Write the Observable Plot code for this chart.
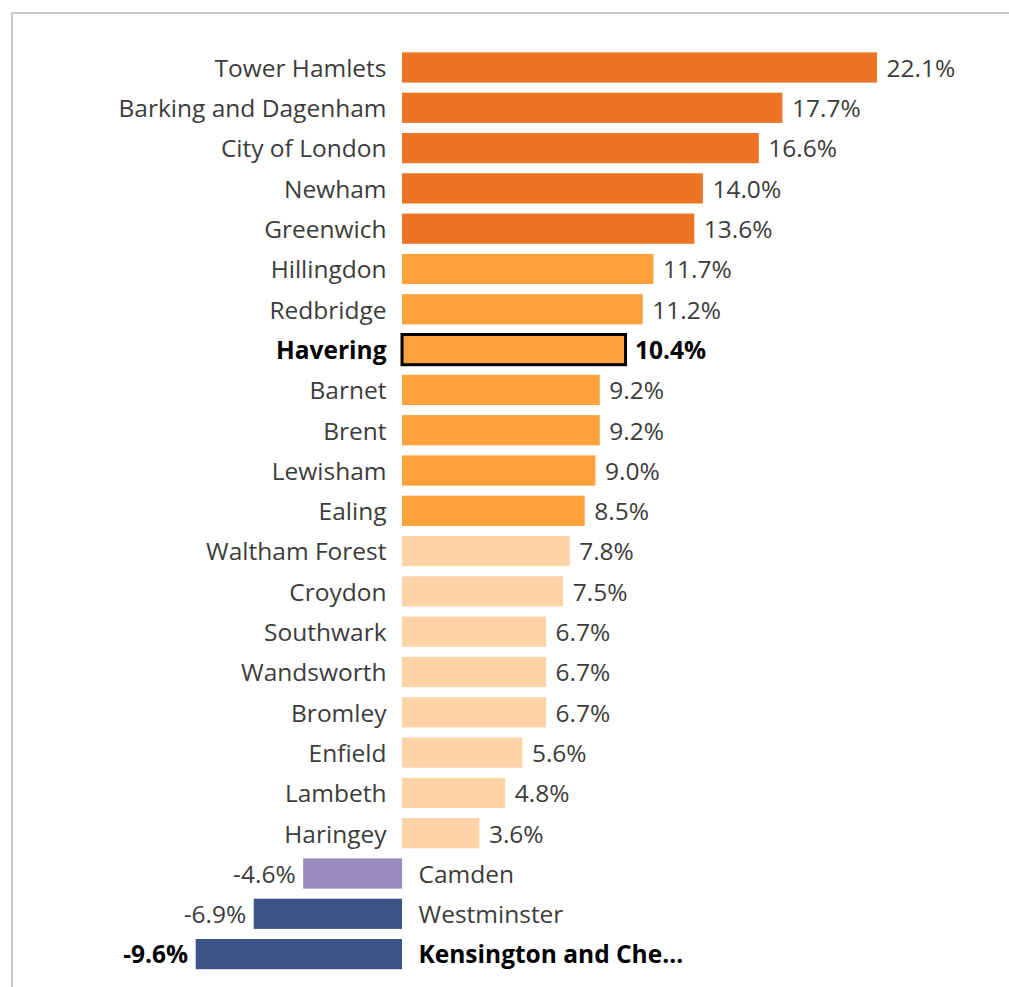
<!DOCTYPE html>
<html><head><meta charset="utf-8">
<script src="https://cdn.jsdelivr.net/npm/d3@7"></script>
<script src="https://cdn.jsdelivr.net/npm/@observablehq/plot@0.6"></script>
<style>
html,body{margin:0;padding:0;background:#fff;}
#wrap{position:relative;width:1009px;height:987px;overflow:hidden;}
#frame{position:absolute;left:11px;top:12px;width:1100px;height:1100px;border-left:2px solid #cacaca;border-top:2px solid #cacaca;}
#chart{position:absolute;left:0;top:0;}
</style></head><body>
<div id="wrap"><div id="frame"></div><div id="chart"></div></div>
<script>
const boroughs = ["Tower Hamlets","Barking and Dagenham","City of London","Newham","Greenwich","Hillingdon","Redbridge","Havering","Barnet","Brent","Lewisham","Ealing","Waltham Forest","Croydon","Southwark","Wandsworth","Bromley","Enfield","Lambeth","Haringey","Camden","Westminster","Kensington and Che..."];
const values = [22.1,17.7,16.6,14.0,13.6,11.7,11.2,10.4,9.2,9.2,9.0,8.5,7.8,7.5,6.7,6.7,6.7,5.6,4.8,3.6,-4.6,-6.9,-9.6];
const groups = ["high","high","high","high","high","mid","mid","mid","mid","mid","mid","mid","low","low","low","low","low","low","low","low","neg","negBig","negBig"];
const highlighted = ["Havering","Kensington and Che..."];

const data = boroughs.map((name,i)=>({name, value: values[i], group: groups[i], bold: highlighted.includes(name), label: values[i].toFixed(1) + "%"}));

const textMarks = [];
for (const bold of [false, true]) {
  const fw = bold ? "bold" : "normal";
  const fc = bold ? "#000" : "#3c3c3c";
  const sub = data.filter(d => d.bold === bold);
  textMarks.push(
    Plot.text(sub.filter(d => d.value >= 0), {x: 0, y: "name", text: "name", textAnchor: "end", dx: -16, dy: 1, fontWeight: fw, fill: fc}),
    Plot.text(sub.filter(d => d.value >= 0), {x: "value", y: "name", text: "label", textAnchor: "start", dx: 9, dy: 1, fontWeight: fw, fill: fc}),
    Plot.text(sub.filter(d => d.value < 0), {x: 0, y: "name", text: "name", textAnchor: "start", dx: 16, dy: 1, fontWeight: fw, fill: fc}),
    Plot.text(sub.filter(d => d.value < 0), {x: "value", y: "name", text: "label", textAnchor: "end", dx: -8, dy: 1, fontWeight: fw, fill: fc})
  );
}

const chart = Plot.plot({
  width: 1009,
  height: 987,
  margin: 0,
  style: {fontFamily: "'Open Sans', sans-serif", fontSize: "24.5px", background: "transparent", overflow: "visible"},
  x: {domain: [-9.6, 22.1], range: [195.7, 877], axis: null},
  y: {domain: boroughs, range: [42.3, 979.3], padding: 0.25, round: false, axis: null},
  color: {domain: ["high","mid","low","neg","negBig"], range: ["#ec7422","#fda13d","#fed3a6","#978bbf","#3d5488"]},
  marks: [
    Plot.barX(data, {x: "value", y: "name", fill: "group"}),
    Plot.barX(data.filter(d => d.name === "Havering"), {x: "value", y: "name", fill: "none", stroke: "#000", strokeWidth: 3}),
    ...textMarks
  ]
});
document.getElementById("chart").appendChild(chart);
</script>
</body></html>
